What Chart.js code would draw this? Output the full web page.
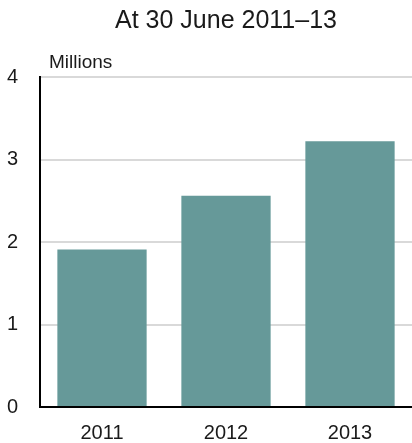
<!DOCTYPE html>
<html lang="en">
<head>
  <meta charset="UTF-8">
  <title>At 30 June 2011–13</title>
  <style>
    html, body { margin: 0; padding: 0; background: #fff; }
    #wrap { width: 412px; height: 443px; }
  </style>
</head>
<body>
  <div id="wrap"><canvas id="grafico" width="412" height="443"></canvas></div>

  <script src="https://cdn.jsdelivr.net/npm/chart.js"></script>
  <script>
    // Data
    const years = ['2011', '2012', '2013'];
    const millions = [1.91, 2.56, 3.22];
    const yTicks = [0, 1, 2, 3, 4];

    const FONT = 'Arial, "Liberation Sans", sans-serif';
    const TEAL = '#669999';

    Chart.defaults.font.family = FONT;
    Chart.defaults.color = '#1a1a1a';

    // Units label above the y axis
    const unitsLabel = {
      id: 'unitsLabel',
      afterDraw(chart) {
        const c = chart.ctx;
        const a = chart.chartArea;
        c.save();
        c.font = '19px ' + FONT;
        c.fillStyle = '#1a1a1a';
        c.textAlign = 'left';
        c.textBaseline = 'alphabetic';
        c.fillText('Millions', a.left + 9, a.top - 9);
        c.restore();
      }
    };

    const ctx = document.getElementById('grafico').getContext('2d');

    new Chart(ctx, {
      type: 'bar',
      data: {
        labels: years,
        datasets: [{
          data: millions,
          backgroundColor: TEAL,
          borderWidth: 0,
          categoryPercentage: 1,
          barPercentage: 0.72
        }]
      },
      options: {
        responsive: false,
        animation: false,
        layout: { padding: { left: 0, right: 0, top: 0, bottom: 0 } },
        plugins: {
          legend: { display: false },
          tooltip: { enabled: false },
          title: {
            display: true,
            text: 'At 30 June 2011–13',
            fullSize: false,
            font: { size: 25, weight: 'normal' },
            color: '#1a1a1a',
            padding: { top: 6, bottom: 41 }
          }
        },
        scales: {
          x: {
            grid: { display: false, drawTicks: false },
            border: { display: true, color: '#000', width: 2 },
            ticks: { font: { size: 20 }, padding: 14 },
            afterFit(scale) { scale.height = 36; }
          },
          y: {
            min: 0,
            max: 4,
            afterBuildTicks(scale) { scale.ticks = yTicks.map(v => ({ value: v })); },
            grid: { color: '#d9d9d9', lineWidth: 2, drawTicks: false },
            border: { display: true, color: '#000', width: 2 },
            ticks: { font: { size: 20 }, padding: 22 },
            afterFit(scale) { scale.width = 40; }
          }
        }
      },
      plugins: [unitsLabel]
    });
  </script>
</body>
</html>
